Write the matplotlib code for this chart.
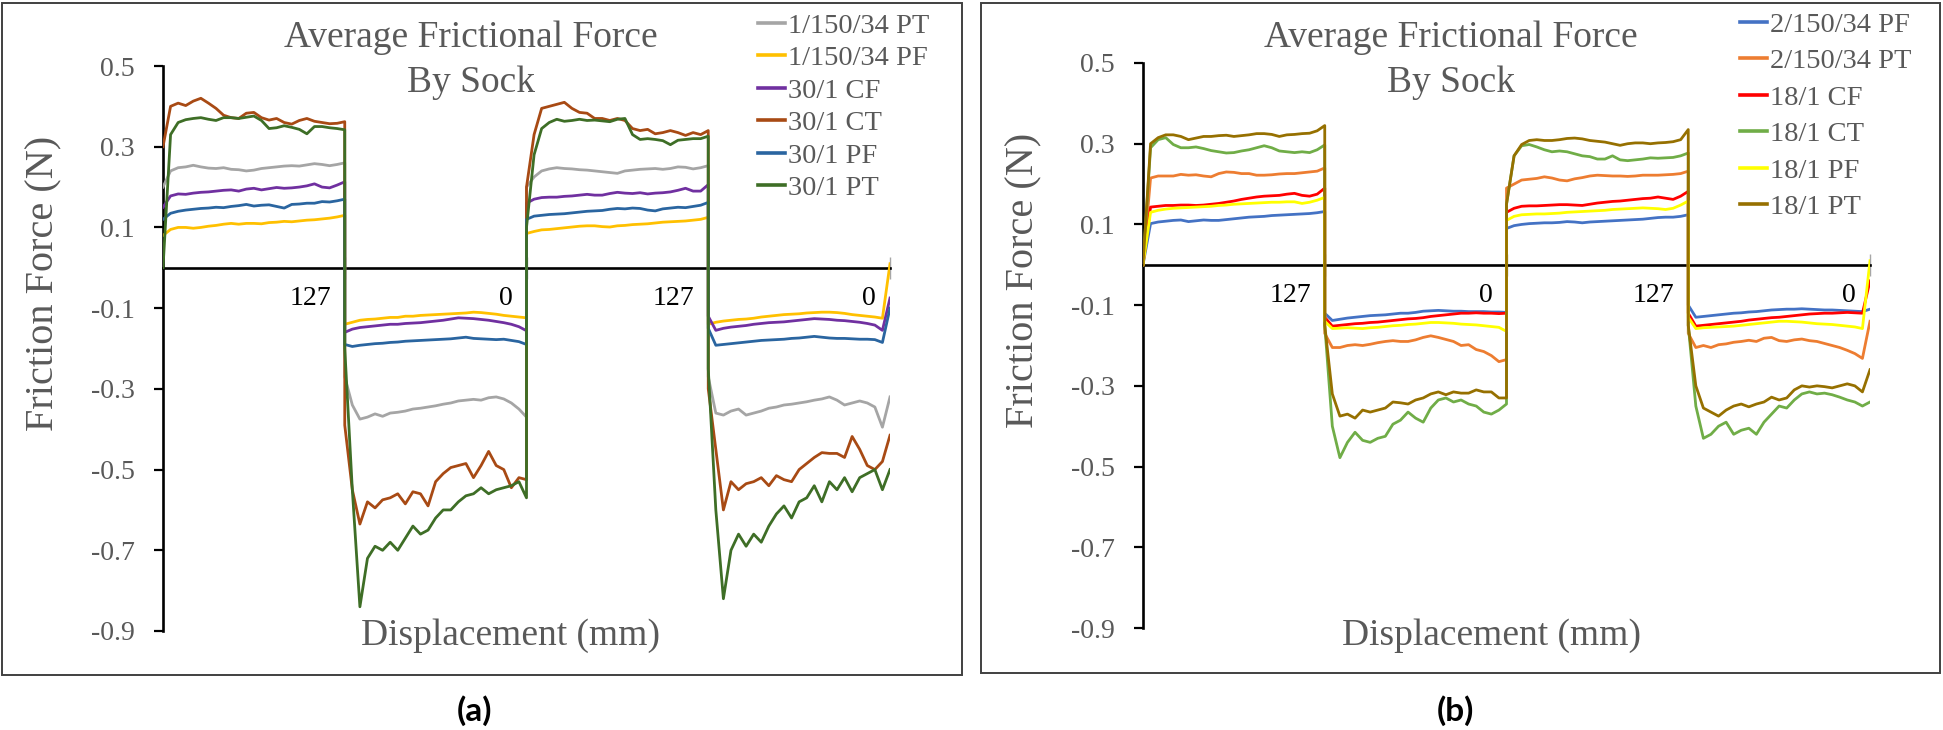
import numpy as np
import matplotlib
matplotlib.use("Agg")
import matplotlib.pyplot as plt
from matplotlib.patches import Rectangle
from matplotlib.transforms import ScaledTranslation

plt.rcParams['font.family'] = ['Liberation Serif', 'DejaVu Serif']
plt.rcParams['axes.unicode_minus'] = False

n_pts = 25  # samples per 127 mm stroke
x_ticks = [127, 254, 381, 508]
x_labels = ['127', '0', '127', '0']
y_ticks = [0.5, 0.3, 0.1, -0.1, -0.3, -0.5, -0.7, -0.9]

# ---- panel (a) ----
labels_a = ['1/150/34 PT', '1/150/34 PF', '30/1 CF', '30/1 CT', '30/1 PF', '30/1 PT']
colors_a = ['#A5A5A5', '#FFC000', '#7030A0', '#A84A14', '#2A65A0', '#3E6E26']

pt_1150 = [0.20, 0.24, 0.248, 0.25, 0.254, 0.25, 0.247, 0.246, 0.248, 0.244, 0.243, 0.24, 0.242, 0.246, 0.248, 0.25, 0.252, 0.253, 0.252, 0.255, 0.258, 0.256, 0.253, 0.256, 0.26,
           -0.27, -0.34, -0.375, -0.37, -0.362, -0.368, -0.36, -0.358, -0.355, -0.35, -0.348, -0.345, -0.342, -0.338, -0.335, -0.33, -0.328, -0.326, -0.328, -0.322, -0.32, -0.325, -0.335, -0.35, -0.37,
           0.20, 0.225, 0.24, 0.245, 0.248, 0.246, 0.245, 0.243, 0.242, 0.24, 0.238, 0.236, 0.234, 0.24, 0.242, 0.244, 0.245, 0.246, 0.244, 0.246, 0.25, 0.249, 0.245, 0.248, 0.253,
           -0.27, -0.36, -0.365, -0.355, -0.35, -0.365, -0.36, -0.355, -0.348, -0.345, -0.34, -0.338, -0.335, -0.332, -0.328, -0.325, -0.32, -0.328, -0.34, -0.335, -0.33, -0.335, -0.345, -0.395, -0.32]
pf_1150 = [0.08, 0.095, 0.1, 0.1, 0.098, 0.1, 0.103, 0.105, 0.108, 0.11, 0.108, 0.11, 0.11, 0.109, 0.112, 0.113, 0.115, 0.114, 0.116, 0.118, 0.119, 0.121, 0.123, 0.126, 0.13,
           -0.14, -0.135, -0.13, -0.128, -0.127, -0.125, -0.123, -0.123, -0.12, -0.12, -0.118, -0.117, -0.116, -0.115, -0.114, -0.113, -0.112, -0.11, -0.111, -0.113, -0.115, -0.118, -0.12, -0.122, -0.124,
           0.085, 0.09, 0.094, 0.095, 0.097, 0.099, 0.101, 0.103, 0.104, 0.104, 0.102, 0.101, 0.104, 0.105, 0.107, 0.108, 0.109, 0.111, 0.113, 0.114, 0.115, 0.116, 0.118, 0.12, 0.125,
           -0.14, -0.135, -0.132, -0.13, -0.128, -0.127, -0.125, -0.122, -0.12, -0.118, -0.116, -0.115, -0.114, -0.112, -0.111, -0.11, -0.11, -0.111, -0.113, -0.116, -0.118, -0.12, -0.122, -0.125, 0.01]
cf_30 = [0.15, 0.178, 0.183, 0.182, 0.185, 0.187, 0.188, 0.19, 0.192, 0.193, 0.19, 0.195, 0.197, 0.193, 0.196, 0.199, 0.197, 0.198, 0.2, 0.203, 0.208, 0.2, 0.198, 0.205, 0.213,
         -0.16, -0.152, -0.148, -0.146, -0.144, -0.142, -0.14, -0.14, -0.138, -0.137, -0.136, -0.134, -0.132, -0.13, -0.127, -0.124, -0.125, -0.126, -0.128, -0.13, -0.133, -0.136, -0.14, -0.146, -0.156,
         0.16, 0.17, 0.174, 0.175, 0.175, 0.177, 0.178, 0.18, 0.182, 0.18, 0.18, 0.184, 0.187, 0.185, 0.184, 0.186, 0.183, 0.185, 0.186, 0.188, 0.192, 0.197, 0.19, 0.19, 0.206,
         -0.12, -0.155, -0.15, -0.147, -0.145, -0.143, -0.14, -0.138, -0.136, -0.135, -0.134, -0.132, -0.13, -0.128, -0.126, -0.127, -0.128, -0.13, -0.131, -0.133, -0.135, -0.138, -0.142, -0.155, -0.075]
ct_30 = [0.30, 0.40, 0.408, 0.402, 0.413, 0.42, 0.408, 0.395, 0.378, 0.372, 0.37, 0.383, 0.385, 0.372, 0.366, 0.37, 0.36, 0.356, 0.365, 0.37, 0.363, 0.36, 0.357, 0.358, 0.362,
         -0.39, -0.55, -0.635, -0.58, -0.595, -0.575, -0.57, -0.56, -0.585, -0.555, -0.56, -0.59, -0.53, -0.51, -0.495, -0.49, -0.485, -0.52, -0.49, -0.455, -0.49, -0.5, -0.545, -0.52, -0.525,
         0.20, 0.33, 0.395, 0.40, 0.405, 0.41, 0.395, 0.385, 0.383, 0.37, 0.37, 0.365, 0.37, 0.365, 0.345, 0.34, 0.343, 0.332, 0.335, 0.34, 0.335, 0.328, 0.335, 0.33, 0.34,
         -0.30, -0.45, -0.60, -0.53, -0.55, -0.535, -0.53, -0.52, -0.54, -0.515, -0.525, -0.53, -0.50, -0.485, -0.47, -0.458, -0.46, -0.46, -0.47, -0.418, -0.45, -0.49, -0.50, -0.48, -0.415]
pf_30 = [0.12, 0.135, 0.14, 0.143, 0.145, 0.147, 0.148, 0.15, 0.149, 0.152, 0.154, 0.157, 0.153, 0.155, 0.156, 0.152, 0.148, 0.157, 0.158, 0.16, 0.16, 0.164, 0.163, 0.166, 0.17,
         -0.19, -0.195, -0.192, -0.19, -0.188, -0.187, -0.185, -0.184, -0.182, -0.181, -0.18, -0.179, -0.178, -0.177, -0.176, -0.174, -0.172, -0.175, -0.176, -0.177, -0.178, -0.177, -0.18, -0.183, -0.19,
         0.12, 0.128, 0.13, 0.132, 0.133, 0.134, 0.136, 0.138, 0.14, 0.141, 0.142, 0.145, 0.147, 0.146, 0.148, 0.147, 0.143, 0.141, 0.146, 0.148, 0.15, 0.149, 0.152, 0.155, 0.162,
         -0.15, -0.192, -0.19, -0.188, -0.186, -0.184, -0.182, -0.18, -0.179, -0.178, -0.177, -0.175, -0.174, -0.172, -0.17, -0.172, -0.174, -0.175, -0.175, -0.176, -0.177, -0.177, -0.178, -0.185, -0.10]
pt_30 = [0.0, 0.33, 0.36, 0.367, 0.37, 0.372, 0.368, 0.365, 0.372, 0.372, 0.37, 0.373, 0.376, 0.365, 0.345, 0.347, 0.352, 0.348, 0.343, 0.332, 0.35, 0.35, 0.347, 0.345, 0.342,
         -0.20, -0.55, -0.84, -0.72, -0.69, -0.70, -0.68, -0.70, -0.67, -0.64, -0.66, -0.65, -0.62, -0.60, -0.60, -0.58, -0.565, -0.56, -0.545, -0.56, -0.55, -0.545, -0.54, -0.53, -0.57,
         0.10, 0.28, 0.345, 0.36, 0.368, 0.363, 0.365, 0.368, 0.365, 0.366, 0.364, 0.362, 0.368, 0.37, 0.33, 0.318, 0.32, 0.318, 0.315, 0.305, 0.316, 0.318, 0.32, 0.32, 0.326,
         -0.25, -0.60, -0.82, -0.70, -0.66, -0.69, -0.66, -0.68, -0.64, -0.61, -0.59, -0.62, -0.58, -0.57, -0.54, -0.58, -0.53, -0.55, -0.52, -0.555, -0.52, -0.51, -0.50, -0.55, -0.50]

# ---- panel (b) ----
labels_b = ['2/150/34 PF', '2/150/34 PT', '18/1 CF', '18/1 CT', '18/1 PF', '18/1 PT']
colors_b = ['#4472C4', '#ED7D31', '#FF0000', '#70AD47', '#FFFF00', '#967000']

pf_2150 = [0.0, 0.102, 0.106, 0.108, 0.11, 0.111, 0.107, 0.109, 0.111, 0.11, 0.11, 0.112, 0.114, 0.116, 0.118, 0.119, 0.12, 0.122, 0.123, 0.124, 0.125, 0.126, 0.127, 0.129, 0.132,
           -0.12, -0.138, -0.135, -0.132, -0.13, -0.128, -0.126, -0.125, -0.124, -0.122, -0.12, -0.12, -0.118, -0.115, -0.114, -0.113, -0.114, -0.115, -0.115, -0.116, -0.116, -0.116, -0.117, -0.117, -0.118,
           0.09, 0.097, 0.1, 0.102, 0.103, 0.104, 0.104, 0.105, 0.107, 0.106, 0.104, 0.106, 0.107, 0.108, 0.109, 0.11, 0.111, 0.112, 0.113, 0.115, 0.117, 0.118, 0.118, 0.12, 0.124,
           -0.10, -0.13, -0.128, -0.126, -0.124, -0.122, -0.12, -0.119, -0.117, -0.116, -0.114, -0.112, -0.111, -0.11, -0.11, -0.109, -0.11, -0.111, -0.112, -0.112, -0.113, -0.114, -0.115, -0.116, -0.11]
pt_2150 = [0.0, 0.215, 0.22, 0.22, 0.22, 0.224, 0.222, 0.223, 0.22, 0.218, 0.226, 0.23, 0.229, 0.226, 0.226, 0.222, 0.222, 0.223, 0.225, 0.226, 0.226, 0.228, 0.23, 0.232, 0.24,
           -0.17, -0.205, -0.205, -0.2, -0.198, -0.2, -0.197, -0.193, -0.19, -0.188, -0.19, -0.19, -0.186, -0.18, -0.176, -0.18, -0.185, -0.19, -0.2, -0.198, -0.21, -0.215, -0.225, -0.24, -0.235,
           0.19, 0.2, 0.21, 0.212, 0.214, 0.218, 0.215, 0.21, 0.208, 0.213, 0.216, 0.22, 0.222, 0.221, 0.22, 0.22, 0.219, 0.22, 0.222, 0.222, 0.222, 0.223, 0.224, 0.226, 0.232,
           -0.17, -0.205, -0.2, -0.205, -0.198, -0.196, -0.192, -0.19, -0.187, -0.19, -0.182, -0.18, -0.188, -0.19, -0.186, -0.184, -0.188, -0.19, -0.195, -0.2, -0.205, -0.212, -0.22, -0.232, -0.14]
cf_18 = [0.0, 0.143, 0.145, 0.147, 0.147, 0.148, 0.148, 0.147, 0.148, 0.15, 0.152, 0.155, 0.158, 0.162, 0.165, 0.168, 0.17, 0.171, 0.172, 0.175, 0.177, 0.172, 0.17, 0.175, 0.19,
         -0.13, -0.152, -0.15, -0.148, -0.146, -0.145, -0.143, -0.142, -0.14, -0.138, -0.136, -0.134, -0.133, -0.131, -0.128, -0.126, -0.124, -0.122, -0.12, -0.12, -0.119, -0.12, -0.12, -0.121, -0.12,
         0.13, 0.14, 0.145, 0.146, 0.146, 0.147, 0.148, 0.149, 0.149, 0.148, 0.147, 0.15, 0.153, 0.155, 0.157, 0.158, 0.16, 0.162, 0.164, 0.165, 0.168, 0.165, 0.162, 0.17, 0.182,
         -0.12, -0.152, -0.15, -0.148, -0.146, -0.144, -0.142, -0.14, -0.137, -0.135, -0.133, -0.131, -0.13, -0.128, -0.126, -0.124, -0.122, -0.121, -0.12, -0.12, -0.119, -0.118, -0.119, -0.12, -0.04]
ct_18 = [0.0, 0.29, 0.31, 0.315, 0.298, 0.29, 0.29, 0.292, 0.288, 0.283, 0.28, 0.277, 0.278, 0.282, 0.285, 0.29, 0.295, 0.29, 0.282, 0.28, 0.278, 0.28, 0.278, 0.285, 0.297,
         -0.15, -0.40, -0.478, -0.44, -0.415, -0.435, -0.44, -0.43, -0.425, -0.395, -0.385, -0.365, -0.38, -0.39, -0.355, -0.335, -0.33, -0.34, -0.335, -0.345, -0.35, -0.365, -0.37, -0.36, -0.345,
         0.15, 0.27, 0.295, 0.298, 0.292, 0.285, 0.28, 0.282, 0.28, 0.275, 0.27, 0.268, 0.262, 0.262, 0.27, 0.26, 0.258, 0.26, 0.262, 0.265, 0.264, 0.265, 0.266, 0.27, 0.277,
         -0.15, -0.35, -0.43, -0.42, -0.40, -0.39, -0.42, -0.41, -0.405, -0.42, -0.39, -0.37, -0.35, -0.355, -0.335, -0.32, -0.315, -0.32, -0.318, -0.322, -0.328, -0.335, -0.34, -0.35, -0.34]
pf_18 = [0.0, 0.13, 0.135, 0.138, 0.14, 0.141, 0.142, 0.143, 0.144, 0.145, 0.147, 0.148, 0.15, 0.151, 0.152, 0.153, 0.154, 0.155, 0.155, 0.156, 0.156, 0.152, 0.155, 0.16, 0.167,
         -0.14, -0.158, -0.157, -0.156, -0.157, -0.158, -0.156, -0.155, -0.153, -0.151, -0.15, -0.148, -0.147, -0.145, -0.143, -0.143, -0.144, -0.145, -0.147, -0.148, -0.149, -0.151, -0.153, -0.155, -0.165,
         0.11, 0.12, 0.124, 0.125, 0.126, 0.126, 0.127, 0.128, 0.13, 0.131, 0.132, 0.133, 0.134, 0.135, 0.137, 0.138, 0.139, 0.14, 0.141, 0.14, 0.139, 0.137, 0.14, 0.148, 0.158,
         -0.13, -0.158, -0.156, -0.155, -0.154, -0.153, -0.152, -0.15, -0.148, -0.146, -0.144, -0.142, -0.14, -0.14, -0.141, -0.142, -0.144, -0.146, -0.147, -0.148, -0.15, -0.152, -0.154, -0.158, 0.01]
pt_18 = [0.0, 0.30, 0.315, 0.322, 0.322, 0.318, 0.31, 0.314, 0.318, 0.318, 0.32, 0.321, 0.318, 0.32, 0.322, 0.325, 0.325, 0.323, 0.318, 0.322, 0.323, 0.325, 0.326, 0.332, 0.345,
         -0.15, -0.32, -0.375, -0.37, -0.38, -0.36, -0.365, -0.36, -0.355, -0.34, -0.342, -0.345, -0.335, -0.33, -0.32, -0.315, -0.322, -0.315, -0.318, -0.318, -0.31, -0.315, -0.315, -0.33, -0.33,
         0.15, 0.27, 0.298, 0.308, 0.31, 0.308, 0.308, 0.31, 0.313, 0.314, 0.312, 0.308, 0.306, 0.304, 0.30, 0.296, 0.30, 0.302, 0.302, 0.30, 0.302, 0.303, 0.305, 0.31, 0.335,
         -0.15, -0.30, -0.355, -0.365, -0.375, -0.36, -0.35, -0.345, -0.352, -0.345, -0.34, -0.328, -0.335, -0.33, -0.31, -0.30, -0.303, -0.30, -0.302, -0.305, -0.30, -0.295, -0.30, -0.315, -0.26]

series_a = [pt_1150, pf_1150, cf_30, ct_30, pf_30, pt_30]
series_b = [pf_2150, pt_2150, cf_18, ct_18, pf_18, pt_18]

# displacement travelled: 4 strokes of 127 mm, strokes share their end points
x = np.concatenate([np.linspace(127 * k, 127 * (k + 1), n_pts) for k in range(4)])

gray = '#595959'
W, H = 1943, 730
fig = plt.figure(figsize=(W / 100, H / 100), dpi=100)


def panel(left_px, top_px, series, labels, colors, leg_x, leg_y, leg_space, tag):
    ax = fig.add_axes([left_px / W, 1 - (top_px + 565) / H, 727 / W, 565 / H])
    for vals, lab, col in zip(series, labels, colors):
        ax.plot(x, vals, color=col, lw=2.0, label=lab, zorder=3)
    ax.set_xlim(0, 508)
    ax.set_ylim(-0.9, 0.5)
    ax.spines['top'].set_visible(False)
    ax.spines['right'].set_visible(False)
    ax.spines['bottom'].set_position(('data', 0))
    ax.spines['bottom'].set_linewidth(1.9)
    ax.spines['left'].set_linewidth(1.9)
    ax.set_yticks(y_ticks)
    ax.set_yticklabels(['%.1f' % v for v in y_ticks])
    ax.tick_params(axis='y', direction='out', length=6.5, width=1.6, pad=14,
                   labelsize=20, labelcolor=gray)
    ax.set_xticks(x_ticks)
    ax.set_xticklabels(x_labels)
    ax.tick_params(axis='x', direction='inout', length=16, width=1, color='#A6A6A6',
                   pad=5, labelsize=20, labelcolor='black')
    shift = ScaledTranslation(-0.14, 0, fig.dpi_scale_trans)
    for t in ax.get_xticklabels():
        t.set_horizontalalignment('right')
        t.set_transform(t.get_transform() + shift)

    cx = left_px + 308
    fig.text(cx / W, 1 - 47 / H, 'Average Frictional Force', ha='center', va='baseline',
             fontsize=27, color=gray)
    fig.text(cx / W, 1 - 92 / H, 'By Sock', ha='center', va='baseline',
             fontsize=27, color=gray)
    fig.text((left_px + 348) / W, 1 - 645 / H, 'Displacement (mm)', ha='center',
             va='baseline', fontsize=27, color=gray)
    fig.text((left_px - 119) / W, 1 - (top_px + 217) / H, 'Friction Force (N)', rotation=90,
             ha='center', va='center', fontsize=29, color=gray)
    fig.text((left_px + 312) / W, 1 - 711 / H, tag, ha='center', va='center',
             fontsize=24, fontweight='bold', family=['Lato', 'DejaVu Sans'])

    leg = ax.legend(loc='upper left', bbox_to_anchor=(leg_x / W, 1 - leg_y / H),
                    bbox_transform=fig.transFigure, frameon=False, fontsize=20.5,
                    handlelength=0.95, handletextpad=0.1, labelspacing=leg_space,
                    borderpad=0, borderaxespad=0)
    for t in leg.get_texts():
        t.set_color(gray)
    for h in leg.get_lines():
        h.set_linewidth(2.6)
    return ax


panel(163, 66, series_a, labels_a, colors_a, 758, 13, 0.23, '(a)')
panel(1143, 63, series_b, labels_b, colors_b, 1740, 12, 0.37, '(b)')

# panel frames
fig.add_artist(Rectangle((2 / W, 1 - 675 / H), 960 / W, 672 / H, transform=fig.transFigure,
                         fill=False, edgecolor='#404040', lw=1.4))
fig.add_artist(Rectangle((981 / W, 1 - 673 / H), 959 / W, 670 / H, transform=fig.transFigure,
                         fill=False, edgecolor='#404040', lw=1.4))

fig.savefig('out.png', dpi=100)
